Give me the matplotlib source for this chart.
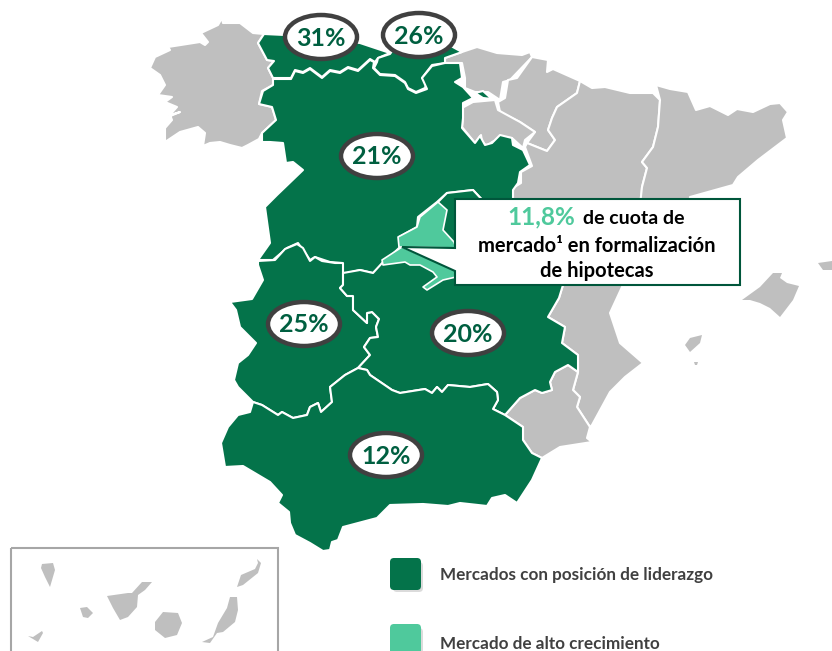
import matplotlib
matplotlib.use('Agg')
import matplotlib.pyplot as plt
from matplotlib.patches import Ellipse, FancyBboxPatch, Polygon, Rectangle

plt.rcParams['font.family'] = ['Lato', 'DejaVu Sans']

DARK = '#04734a'
LIGHT = '#4fc99c'
GREY = '#bfbfbf'
TEXT_GREEN = '#005f40'

# region outlines
galicia = [(150,68),(155,57),(170,50),(168,47),(200,42),(205,45),(208,42),(201,33),(218,25),(222,18),(223,23),(240,23),(253,33),(264,34),(258,43),(267,60),(274,61),(268,68),(273,78),(273,85),(262,91),(259,104),(272,107),(276,120),(262,133),(259,139),(248,145),(242,148),(230,145),(220,142),(210,143),(203,146),(205,133),(198,127),(180,132),(165,142),(165,128),(172,120),(170,115),(180,112),(168,117),(177,107),(165,102),(172,97),(158,95),(165,85),(160,75)]
asturias = [(264,34),(285,35),(360,43),(390,53),(378,58),(375,62),(370,59),(358,70),(348,67),(340,72),(330,70),(322,77),(310,68),(303,72),(295,70),(291,78),(273,78),(268,68),(274,61),(267,60),(258,43)]
cantabria = [(377,62),(378,58),(390,54),(400,40),(440,40),(462,52),(445,58),(445,63),(432,65),(422,78),(427,82),(425,88),(416,92),(408,88),(405,82),(395,75),(380,74),(374,68)]
castilla_leon = [(273,79),(291,79),(295,71),(303,73),(310,69),(322,78),(330,71),(340,73),(348,68),(358,71),(370,60),(374,62),(373,68),(380,75),(395,76),(405,83),(408,89),(416,93),(427,89),(422,78),(432,66),(445,63),(460,63),(462,78),(455,82),(463,87),(473,98),(463,103),(463,118),(462,128),(475,143),(480,136),(485,145),(492,143),(500,135),(512,138),(513,145),(523,150),(530,165),(520,172),(518,183),(513,190),(513,205),(487,205),(473,190),(447,193),(437,202),(418,217),(417,227),(399,237),(400,247),(373,273),(360,270),(343,274),(342,263),(330,262),(315,257),(310,260),(298,243),(287,248),(273,260),(258,260),(270,243),(265,207),(277,195),(303,170),(293,162),(286,163),(283,143),(270,142),(262,142),(262,133),(276,120),(272,107),(259,104),(263,91),(273,85)]
trevino = [(475,93),(483,91),(492,99),(483,98)]
extremadura = [(258,261),(275,260),(285,249),(297,244),(303,248),(310,261),(315,257),(322,261),(335,263),(343,263),(343,273),(343,285),(340,288),(347,296),(353,296),(353,310),(367,323),(367,313),(372,312),(379,319),(376,327),(378,337),(370,338),(364,347),(370,355),(358,368),(345,375),(330,387),(332,402),(321,412),(318,403),(310,407),(307,415),(293,418),(282,412),(278,415),(262,405),(253,402),(238,387),(234,380),(238,363),(248,355),(256,343),(240,327),(236,310),(230,302),(252,299),(263,280),(258,265)]
castilla_mancha = [(343,273),(360,270),(373,273),(383,262),(402,248),(438,202),(447,193),(473,190),(487,205),(520,205),(563,285),(559,298),(548,317),(565,327),(562,343),(578,355),(578,372),(568,365),(555,372),(550,382),(552,390),(542,393),(535,390),(520,398),(505,415),(493,409),(498,400),(497,392),(488,384),(470,387),(448,385),(442,392),(437,387),(432,393),(425,389),(400,393),(392,390),(370,375),(367,370),(358,368),(370,355),(364,347),(370,338),(378,337),(376,327),(379,319),(372,312),(367,313),(367,323),(353,310),(353,296),(347,296),(340,288),(343,285)]
madrid_top = [(438,202),(447,210),(443,230),(454,242),(456,248),(407,247),(399,247),(398,237),(417,227),(420,217)]
madrid_bottom = [(402,247),(382,260),(383,265),(405,262),(410,265),(420,265),(433,272),(437,277),(423,287),(427,290),(443,280),(456,277),(456,270)]
andalucia = [(253,402),(262,405),(278,415),(282,412),(293,418),(307,415),(310,407),(318,403),(321,412),(332,402),(330,387),(345,375),(358,368),(367,370),(370,375),(392,390),(400,393),(425,389),(432,393),(437,387),(442,392),(448,385),(470,387),(488,384),(497,392),(498,400),(493,409),(505,415),(523,427),(523,440),(532,453),(542,458),(532,480),(517,503),(505,495),(492,498),(487,506),(460,503),(448,506),(423,504),(390,505),(377,518),(343,527),(338,540),(332,542),(330,550),(323,551),(310,543),(295,535),(290,523),(289,512),(278,503),(282,495),(270,482),(243,466),(225,467),(221,443),(228,427),(238,415),(250,412)]
murcia = [(505,415),(520,398),(535,390),(542,393),(552,390),(550,382),(555,372),(568,365),(578,372),(573,390),(580,397),(577,407),(590,427),(587,438),(592,442),(560,447),(542,458),(532,453),(523,440),(523,427)]
valencia = [(520,205),(640,205),(622,287),(610,313),(620,343),(643,363),(625,377),(610,392),(592,425),(590,427),(577,407),(580,397),(573,390),(578,372),(578,355),(562,343),(565,327),(548,317),(559,298),(563,285)]
aragon = [(580,81),(592,88),(605,87),(630,93),(653,93),(660,100),(658,127),(653,147),(642,162),(647,168),(642,187),(641,205),(513,205),(513,188),(521,183),(521,172),(532,166),(525,147),(527,143),(547,151),(555,140),(548,130),(552,118),(557,107),(577,93)]
cataluna = [(656,85),(670,89),(688,92),(696,110),(710,106),(728,115),(737,109),(753,112),(770,104),(780,103),(788,112),(783,120),(787,138),(758,160),(738,177),(733,185),(690,197),(690,205),(640,205),(642,187),(647,168),(642,162),(653,147),(658,127),(660,100)]
pais_vasco = [(445,58),(462,52),(477,47),(497,53),(522,55),(530,52),(532,57),(510,80),(503,82),(500,100),(488,92),(475,92),(465,88),(465,78),(462,63),(445,63)]
navarra = [(532,57),(548,60),(547,72),(553,69),(580,81),(577,93),(557,107),(552,118),(548,130),(555,140),(547,151),(527,143),(535,132),(520,122),(500,112),(498,102),(505,98),(508,80),(517,78)]
rioja = [(462,108),(473,102),(495,100),(498,110),(520,122),(535,132),(525,140),(523,148),(512,138),(503,137),(492,142),(487,146),(482,142),(481,135),(475,143),(462,127),(463,117)]
mallorca = [(742,300),(760,287),(773,273),(782,273),(780,278),(787,283),(799,286),(793,300),(780,317),(770,308),(760,303),(750,300)]
menorca = [(818,263),(832,261),(832,270),(823,270)]
ibiza = [(685,345),(690,338),(702,335),(700,343),(690,352)]
formentera = [(694,362),(698,362),(697,365),(695,365)]
la_palma = [(42,564),(53,563),(55,570),(50,587),(45,577),(41,568)]
gomera = [(80,608),(87,607),(93,613),(88,618),(83,617)]
hierro = [(28,636),(33,637),(42,631),(43,633),(38,642)]
tenerife = [(107,596),(128,593),(132,593),(142,582),(152,582),(145,590),(138,595),(137,607),(128,617),(120,620),(113,608)]
gran_canaria = [(163,612),(178,613),(182,623),(177,635),(165,638),(155,630),(155,622)]
fuerteventura = [(230,597),(237,597),(238,610),(235,622),(223,632),(217,633),(210,643),(202,642),(213,637),(218,623),(227,608)]
lanzarote = [(257,559),(261,563),(258,573),(243,585),(237,587),(241,575),(255,569),(258,563)]

grey_regions = [galicia, pais_vasco, navarra, rioja, aragon, cataluna, valencia, murcia]
dark_regions = [asturias, cantabria, castilla_leon, trevino, extremadura, castilla_mancha, andalucia]
light_regions = [madrid_top, madrid_bottom]
islands = [mallorca, menorca, ibiza, formentera, la_palma, gomera, hierro,
           tenerife, gran_canaria, fuerteventura, lanzarote]

bubble_labels = ['31%', '26%', '21%', '25%', '20%', '12%']
bubble_x = [321, 419, 377, 304, 468, 386]
bubble_y = [37, 35, 156, 324, 333, 455]

legend_labels = ['Mercados con posición de liderazgo', 'Mercado de alto crecimiento']
legend_colors = [DARK, LIGHT]
legend_y = [574, 640]

callout = [(455,199),(740,199),(740,285),(455,285),(455,271),(402,247),(455,248)]

fig = plt.figure(figsize=(8.32, 6.51), dpi=100)
ax = fig.add_axes([0, 0, 1, 1])
ax.set_xlim(0, 832)
ax.set_ylim(651, 0)
ax.axis('off')

for pts in grey_regions:
    ax.add_patch(Polygon(pts, closed=True, fc=GREY, ec='white', lw=1.5, joinstyle='round', zorder=2))
for pts in dark_regions:
    ax.add_patch(Polygon(pts, closed=True, fc=DARK, ec='white', lw=1.5, joinstyle='round', zorder=3))
for pts in light_regions:
    ax.add_patch(Polygon(pts, closed=True, fc=LIGHT, ec='white', lw=1.2, joinstyle='round', zorder=4))
for pts in islands:
    ax.add_patch(Polygon(pts, closed=True, fc=GREY, ec='none', zorder=2))

# canary islands frame runs off the bottom
ax.add_patch(Rectangle((11, 548), 267, 120, fc='none', ec='#a6a6a6', lw=1.5, zorder=1))

for lab, x, y in zip(bubble_labels, bubble_x, bubble_y):
    ax.add_patch(Ellipse((x, y), 72, 44, fc='white', ec='#404040', lw=3.2, zorder=6))
    ax.text(x, y + 1, lab, color=TEXT_GREEN, fontsize=18, fontweight='bold',
            ha='center', va='center', zorder=7)

# callout box
ax.add_patch(Polygon(callout, closed=True, fc='white', ec='#00563b', lw=1.5, zorder=8))
ax.text(575, 217, '11,8%', color=LIGHT, fontsize=17.5, fontweight='bold',
        ha='right', va='center', zorder=9)
ax.text(583, 219, 'de cuota de', color='black', fontsize=14, fontweight='bold',
        ha='left', va='center', zorder=9)
ax.text(597, 246, 'mercado¹ en formalización', color='black', fontsize=14.5,
        fontweight='bold', ha='center', va='center', zorder=9)
ax.text(597, 271, 'de hipotecas', color='black', fontsize=14.5, fontweight='bold',
        ha='center', va='center', zorder=9)

# legend
for lab, col, y in zip(legend_labels, legend_colors, legend_y):
    ax.add_patch(FancyBboxPatch((393, y - 12), 30, 30, boxstyle='round,pad=0,rounding_size=4',
                                fc='#999999', ec='none', alpha=0.35, zorder=4))
    ax.add_patch(FancyBboxPatch((390, y - 16), 31, 32, boxstyle='round,pad=0,rounding_size=4',
                                fc=col, ec='none', zorder=5))
    ax.text(440, y + 1 if y < 600 else y + 4, lab, color='#404040', fontsize=12.3,
            fontweight='bold', ha='left', va='center')

fig.savefig('out.png', dpi=100)
